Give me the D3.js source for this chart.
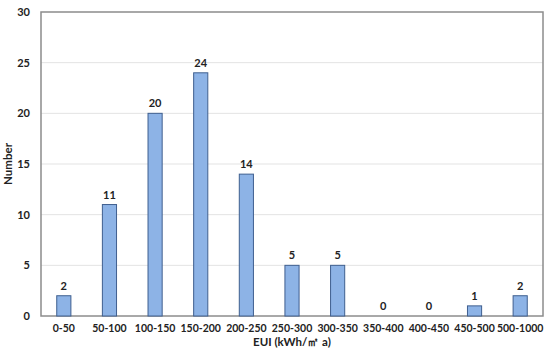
<!DOCTYPE html>
<html>
<head>
<meta charset="utf-8">
<script src="https://cdn.jsdelivr.net/npm/d3@7"></script>
<style>
  body { margin: 0; background: #fff; }
  svg { display: block; font-family: Lato, "Open Sans", sans-serif; font-weight: bold; }
</style>
</head>
<body>
<div class="viz"></div>
<script>
// EUI ranges and number of buildings in each
const categories = ['0-50', '50-100', '100-150', '150-200', '200-250', '250-300', '300-350', '350-400', '400-450', '450-500', '500-1000'];
const counts = [2, 11, 20, 24, 14, 5, 5, 0, 0, 1, 2];
const yTicks = [0, 5, 10, 15, 20, 25, 30];

const margin = { top: 12, right: 7, bottom: 41, left: 41 };
const width = 550 - (margin.left + margin.right);
const height = 357 - (margin.top + margin.bottom);

const svg = d3.select('.viz')
  .append('svg')
  .attr('width', 550)
  .attr('height', 357);

const group = svg.append('g')
  .attr('transform', `translate(${margin.left} ${margin.top})`);

const xScale = d3.scaleBand()
  .domain(categories)
  .range([0, width])
  .paddingInner(0.69)
  .paddingOuter(0.345);

const yScale = d3.scaleLinear()
  .domain([0, 30])
  .range([height, 0]);

// horizontal grid lines
group.selectAll('line.grid')
  .data(yTicks.slice(1, -1))
  .enter()
  .append('line')
  .attr('class', 'grid')
  .attr('x1', 0)
  .attr('x2', width)
  .attr('y1', d => yScale(d))
  .attr('y2', d => yScale(d))
  .attr('stroke', '#e3e3e3');

// plot border
group.append('rect')
  .attr('width', width)
  .attr('height', height)
  .attr('fill', 'none')
  .attr('stroke', '#8c8c8c')
  .attr('stroke-width', 1.5);

// bars
group.selectAll('rect.bar')
  .data(counts)
  .enter()
  .append('rect')
  .attr('class', 'bar')
  .attr('x', (d, i) => xScale(categories[i]))
  .attr('y', d => yScale(d))
  .attr('width', xScale.bandwidth())
  .attr('height', d => height - yScale(d))
  .attr('fill', '#8db3e6')
  .attr('stroke', '#3f5f8f')
  .attr('stroke-width', 1);

// value labels
group.selectAll('text.value')
  .data(counts)
  .enter()
  .append('text')
  .attr('class', 'value')
  .attr('x', (d, i) => xScale(categories[i]) + xScale.bandwidth() / 2)
  .attr('y', d => yScale(d) - 6)
  .attr('text-anchor', 'middle')
  .attr('font-size', 11)
  .attr('fill', '#222')
  .text(d => d);

// y axis labels
const yAxis = d3.axisLeft(yScale).tickValues(yTicks).tickSize(0).tickPadding(11);
const gy = group.append('g').call(yAxis);
gy.select('.domain').remove();
gy.selectAll('text')
  .attr('font-size', 11)
  .attr('font-family', 'Lato, sans-serif')
  .attr('font-weight', 'bold')
  .attr('fill', '#222');

// x axis labels
const xAxis = d3.axisBottom(xScale).tickSize(0).tickPadding(9);
const gx = group.append('g')
  .attr('transform', `translate(0 ${height})`)
  .call(xAxis);
gx.select('.domain').remove();
gx.selectAll('text')
  .attr('font-size', 10.5)
  .attr('font-family', 'Lato, sans-serif')
  .attr('font-weight', 'bold')
  .attr('fill', '#222');

// axis titles
svg.append('text')
  .attr('x', margin.left + width / 2)
  .attr('y', 346)
  .attr('text-anchor', 'middle')
  .attr('font-size', 11.5)
  .attr('fill', '#222')
  .text('EUI (kWh/㎡ a)');

svg.append('text')
  .attr('transform', `translate(12 ${margin.top + height / 2}) rotate(-90)`)
  .attr('text-anchor', 'middle')
  .attr('font-size', 11.5)
  .attr('fill', '#222')
  .text('Number');
</script>
</body>
</html>
